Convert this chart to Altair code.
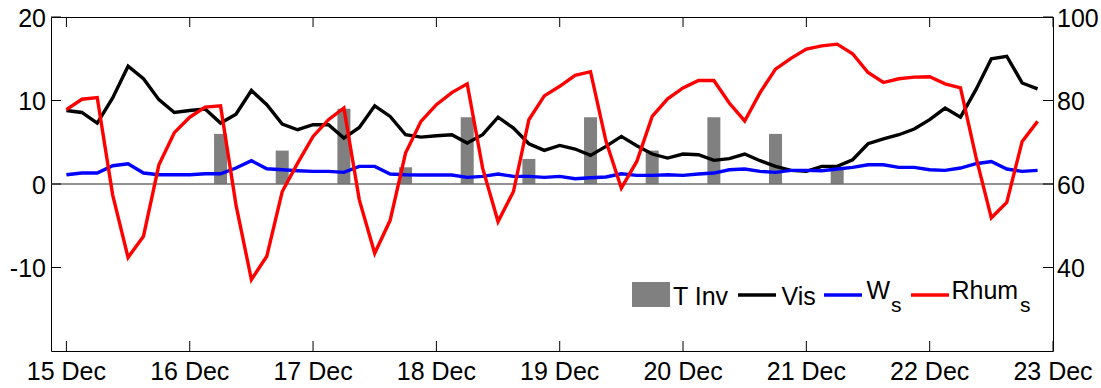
import altair as alt
import pandas as pd

FONT = "Liberation Sans"

# 3-hourly samples, hours since 15 Dec 00:00
hours = list(range(0, 192, 3))

vis = [8.8, 8.57, 7.3, 10.3, 14.1, 12.6, 10.1, 8.57, 8.8, 8.97,
       7.3, 8.37, 11.2, 9.49, 7.18, 6.5, 7.1, 7.1, 5.5, 6.77,
       9.37, 8.09, 5.9, 5.62, 5.78, 5.9, 4.9, 5.9, 8.0, 6.7,
       4.82, 4.02, 4.62, 4.19, 3.42, 4.5, 5.7, 4.58, 3.59, 3.11,
       3.59, 3.5, 2.83, 3.03, 3.59, 2.79, 2.11, 1.63, 1.51, 2.11,
       2.11, 2.91, 4.82, 5.4, 5.9, 6.58, 7.7, 9.09, 8.0, 11.3,
       15.0, 15.3, 12.1, 11.4]

ws = [1.11, 1.31, 1.31, 2.19, 2.43, 1.31, 1.11, 1.11, 1.11, 1.23,
      1.23, 1.91, 2.79, 1.83, 1.71, 1.59, 1.51, 1.51, 1.39, 2.11,
      2.11, 1.2, 1.11, 1.07, 1.07, 1.07, 0.79, 0.91, 1.2, 0.91,
      0.91, 0.79, 0.91, 0.63, 0.75, 0.84, 1.23, 1.03, 1.03, 1.11,
      1.03, 1.2, 1.31, 1.71, 1.79, 1.51, 1.39, 1.63, 1.63, 1.59,
      1.79, 1.99, 2.31, 2.31, 1.99, 1.99, 1.71, 1.63, 1.91, 2.43,
      2.7, 1.79, 1.51, 1.63]

rhum = [77.8, 80.3, 80.7, 57.4, 42.4, 47.5, 64.6, 72.3, 76.0, 78.4,
        78.7, 55.0, 37.1, 42.7, 58.2, 65.0, 71.4, 75.4, 78.2, 56.2,
        43.4, 51.3, 67.4, 75.0, 79.0, 81.9, 84.0, 63.8, 51.0, 58.2,
        75.4, 81.1, 83.4, 86.0, 86.9, 70.3, 59.0, 65.4, 76.2, 80.4,
        83.0, 84.8, 84.8, 79.4, 75.1, 81.9, 87.5, 90.1, 92.3, 93.1,
        93.5, 91.2, 86.7, 84.3, 85.2, 85.6, 85.7, 84.0, 83.0, 66.5,
        51.9, 55.6, 70.2, 75.0]

inv_hours = [30, 42, 54, 66, 78, 90, 102, 114, 126, 138, 150]
inv_vals = [6, 4, 9, 2, 8, 3, 8, 4, 8, 6, 2]

day_ticks = [0, 24, 48, 72, 96, 120, 144, 168, 192]
day_labels = ["15 Dec", "16 Dec", "17 Dec", "18 Dec", "19 Dec",
              "20 Dec", "21 Dec", "22 Dec", "23 Dec"]
left_ticks = [20, 10, 0, -10]
left_labels = ["20", "10", "0", "-10"]
right_ticks = [100, 80, 60, 40]
right_labels = ["100", "80", "60", "40"]

W, H = 1002, 334
LW = 3.4

lines_df = pd.DataFrame({"t": hours, "vis": vis, "ws": ws, "rhum": rhum})
inv_df = pd.DataFrame({"t": inv_hours, "v": inv_vals})
one = pd.DataFrame({"z": [0]})
xt_df = pd.DataFrame({"t": day_ticks, "lab": day_labels})
lt_df = pd.DataFrame({"v": left_ticks, "lab": left_labels})
rt_df = pd.DataFrame({"v": right_ticks, "lab": right_labels})

x_scale = alt.Scale(domain=[-3, 192], nice=False, zero=False)
yl = alt.Scale(domain=[-20, 20], nice=False, zero=False)
yr = alt.Scale(domain=[20, 100], nice=False, zero=False)

X = lambda f: alt.X(f, scale=x_scale, axis=None)
YL = lambda f: alt.Y(f, scale=yl, axis=None)
YR = lambda f: alt.Y(f, scale=yr, axis=None)

bars = alt.Chart(inv_df).transform_calculate(
    x0="datum.t - 1.265", x1="datum.t + 1.265"
).mark_rect(color="#808080").encode(
    x=X("x0:Q"), x2="x1:Q", y=YL("v:Q"), y2=alt.datum(0),
)

zero = alt.Chart(one).mark_rule(color="#6e6e6e", strokeWidth=1.5).encode(y=YL("z:Q"))

vis_line = alt.Chart(lines_df).mark_line(color="black", strokeWidth=LW).encode(
    x=X("t:Q"), y=YL("vis:Q"))
ws_line = alt.Chart(lines_df).mark_line(color="#0000ff", strokeWidth=LW).encode(
    x=X("t:Q"), y=YL("ws:Q"))

# inward ticks and tick labels
lt = alt.Chart(lt_df).mark_rule(color="black").encode(
    y=YL("v:Q"), x=alt.value(0), x2=alt.value(10))
lt_lab = alt.Chart(lt_df).mark_text(align="right", baseline="alphabetic", dy=9.5,
                                    fontSize=25, font=FONT, color="black").encode(
    y=YL("v:Q"), x=alt.value(-5), text="lab:N")
xt_bot = alt.Chart(xt_df).mark_rule(color="black").encode(
    x=X("t:Q"), y=alt.value(H - 10), y2=alt.value(H))
xt_top = alt.Chart(xt_df).mark_rule(color="black").encode(
    x=X("t:Q"), y=alt.value(0), y2=alt.value(10))
xt_lab = alt.Chart(xt_df).mark_text(align="center", baseline="alphabetic",
                                    fontSize=25, font=FONT, color="black").encode(
    x=X("t:Q"), y=alt.value(H + 29), text="lab:N")

left = alt.layer(bars, zero, vis_line, ws_line, lt, lt_lab, xt_bot, xt_top, xt_lab)

rh_line = alt.Chart(lines_df).mark_line(color="#ff0000", strokeWidth=LW).encode(
    x=X("t:Q"), y=YR("rhum:Q"))
rt = alt.Chart(rt_df).mark_rule(color="black").encode(
    y=YR("v:Q"), x=alt.value(W - 10), x2=alt.value(W))
rt_lab = alt.Chart(rt_df).mark_text(align="left", baseline="alphabetic", dy=9.5,
                                    fontSize=25, font=FONT, color="black").encode(
    y=YR("v:Q"), x=alt.value(W + 4), text="lab:N")
right = alt.layer(rh_line, rt, rt_lab)


def txt(s, x, y, size=25):
    return alt.Chart(one).mark_text(text=s, align="left", baseline="alphabetic",
                                    fontSize=size, font=FONT, color="black").encode(
        x=alt.value(x), y=alt.value(y))


def seg(color, x1, x2, y):
    return alt.Chart(one).mark_rule(color=color, strokeWidth=3.3).encode(
        x=alt.value(x1), x2=alt.value(x2), y=alt.value(y))


leg_box = alt.Chart(one).mark_rect(color="#808080").encode(
    x=alt.value(581), x2=alt.value(619), y=alt.value(265), y2=alt.value(290))

legend = alt.layer(
    leg_box, txt("T Inv", 622, 288),
    seg("black", 687, 725, 278), txt("Vis", 730.5, 288),
    seg("#0000ff", 773, 811, 278), txt("W", 815.5, 281.5), txt("s", 840, 294.5, 21),
    seg("#ff0000", 860, 898, 278), txt("Rhum", 900.5, 282), txt("s", 969, 294.5, 21),
)

chart = alt.layer(left, right, legend).resolve_scale(y="independent").properties(
    width=W, height=H,
    autosize=alt.AutoSizeParams(type="none"),
    padding={"left": 51, "top": 17, "right": 48, "bottom": 37},
    background="white",
).configure_view(stroke="black", strokeWidth=1)

chart.save("out.html", embed_options={"renderer": "svg", "actions": False})
